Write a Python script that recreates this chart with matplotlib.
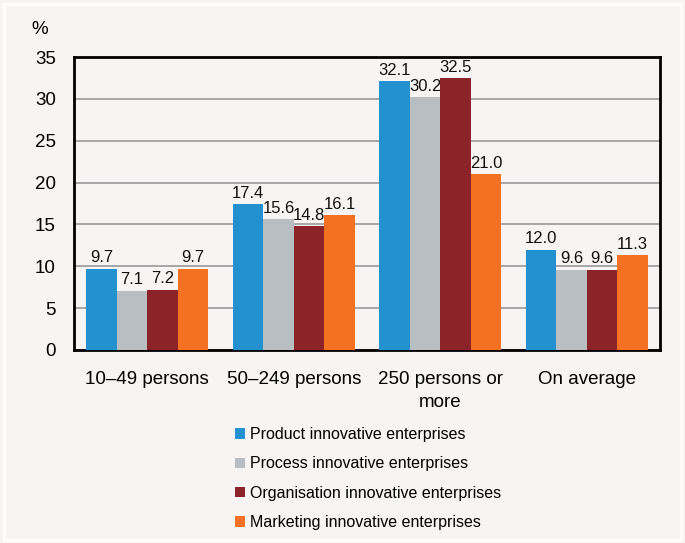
import matplotlib
matplotlib.use("Agg")
import matplotlib.pyplot as plt
from matplotlib.patches import Rectangle
import numpy as np

categories = ["10–49 persons", "50–249 persons", "250 persons or\nmore", "On average"]
series_names = ["Product innovative enterprises", "Process innovative enterprises",
                "Organisation innovative enterprises", "Marketing innovative enterprises"]
product = [9.7, 17.4, 32.1, 12.0]
process = [7.1, 15.6, 30.2, 9.6]
organisation = [7.2, 14.8, 32.5, 9.6]
marketing = [9.7, 16.1, 21.0, 11.3]
colors = ["#2390d0", "#b9bec2", "#8b2328", "#f47124"]
yticks = [0, 5, 10, 15, 20, 25, 30, 35]

plt.rcParams['font.family'] = ['Liberation Sans', 'DejaVu Sans']
bg = "#f6f5f3"
fig = plt.figure(figsize=(6.85, 5.43), dpi=100, facecolor=bg)
fig.patches.append(Rectangle((0.006, 0.006), 0.988, 0.986, transform=fig.transFigure,
                             fill=False, edgecolor="white", linewidth=2))
ax = fig.add_axes([74/685, 1-350/543, 586/685, 293/543], facecolor=bg)

data = [product, process, organisation, marketing]
x = np.arange(len(categories))
w = 0.208
for i, (vals, c, name) in enumerate(zip(data, colors, series_names)):
    pos = x + (i - 1.5) * w
    ax.bar(pos, vals, width=w, color=c, label=name, zorder=3)
    for p, v in zip(pos, vals):
        ax.text(p, v + 0.4, f"{v:.1f}", ha="center", va="bottom", fontsize=12, color="#111111")

ax.set_xlim(-0.5, 3.5)
ax.set_ylim(0, 35)
ax.set_yticks(yticks)
ax.set_yticklabels([str(t) for t in yticks], fontsize=13.5)
ax.set_xticks(x)
ax.set_xticklabels(categories, fontsize=13.5, linespacing=1.45)
ax.tick_params(axis='x', length=0, pad=15)
ax.tick_params(axis='y', length=0, pad=13)
ax.yaxis.grid(True, color="#a0a0a4", linewidth=1.3, zorder=0)
for s in ax.spines.values():
    s.set_linewidth(2)
    s.set_color("black")
fig.text(40/685, 1-29/543, "%", fontsize=13.5, ha="center", va="center")

leg = fig.legend(loc="upper left", bbox_to_anchor=(227/685, 1-419/543), frameon=False,
                 fontsize=11.5, handlelength=0.63, handleheight=0.63, handletextpad=0.28,
                 labelspacing=0.9, borderpad=0)
fig.savefig("out.png", dpi=100, facecolor=bg)
